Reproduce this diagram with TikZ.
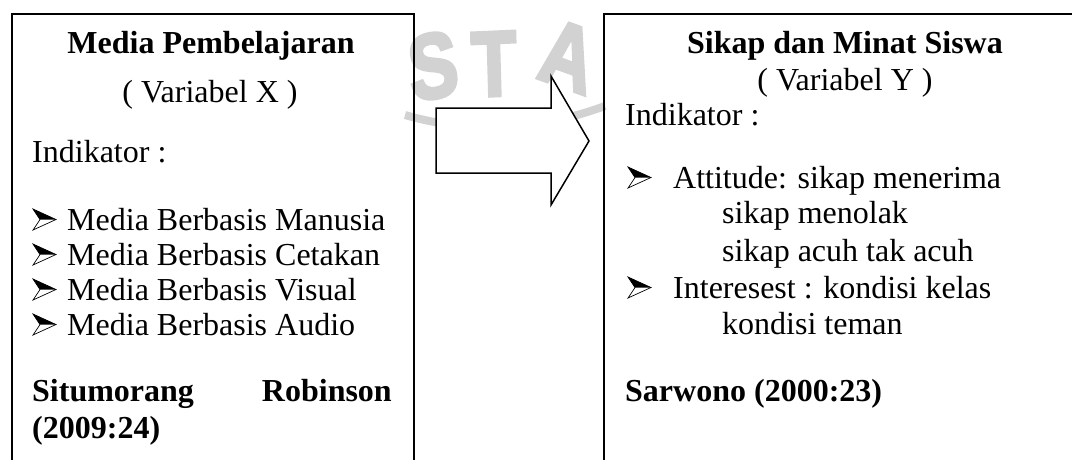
\documentclass[tikz,border=0pt]{standalone}
\usepackage{fontspec}
\setmainfont{Liberation Serif}
\newfontfamily\capfont[BoldFeatures={FakeBold=4}]{Liberation Sans}
\usetikzlibrary{positioning}
\definecolor{samar}{HTML}{D2D2D2}

\begin{document}
\begin{tikzpicture}[x=1pt,y=-1pt,
  kotak/.style={draw,line width=1.5pt,rectangle,inner sep=0pt,anchor=north west},
  teks/.style={anchor=base west,inner sep=0pt,font=\fontsize{32}{36}\selectfont},
  judul/.style={anchor=base,inner sep=0pt,font=\fontsize{32}{36}\selectfont\bfseries},
  tebal/.style={teks,font=\fontsize{32}{36}\selectfont\bfseries},
  huruf/.style={samar,inner sep=0pt,xscale=0.8,font=\capfont\bfseries\fontsize{92}{92}\selectfont},
  butir/.pic={\filldraw[line width=0.7pt,fill=white] (0,-21)--(23,-10.5)--(0,0)--(7,-10.5)--cycle;
              \fill (0,-21)--(23,-10.5)--(7,-10.5)--cycle;}]
\clip (0,0) rectangle (1072,459);
\node[huruf,rotate=8] (wmS) at (433,66) {S};
\node[huruf,rotate=2] (wmT) at (494,64) {T};
\node[huruf,rotate=-16] (wmA) at (568,56) {A};
\draw[samar,line width=8pt] (405,115) .. controls (470,134) and (540,130) .. (605,106);

\node[kotak,minimum width=402,minimum height=520] (kotakX) at (11,13) {};
\node[kotak,minimum width=520,minimum height=520] (kotakY) at (603,13) {};
\draw[line width=1.5pt,line join=miter,fill=white] (436,108) -- (551,108) -- (551,76) -- (589,141)
  -- (551,205) -- (551,173) -- (436,173) -- cycle;

\node[judul] (judulX) at (211,53) {Media Pembelajaran};
\node[teks,anchor=base] (varX) at (210,102) {( Variabel X )};
\node[teks] (indX) at (32,162) {Indikator :};
\foreach \y/\t [count=\i] in {230/Manusia,265/Cetakan,300/Visual,335/Audio}{
  \pic at (33,\y) {butir};
  \node[teks] (mediaX\i) at (67,\y) {Media Berbasis \t};}
\node[tebal] (sumberX1) at (32,401) {Situmorang};
\node[tebal,anchor=base east] (sumberX2) at (392,401) {Robinson};
\node[tebal] (sumberX3) at (32,438) {(2009:24)};

\node[judul] (judulY) at (845,53) {Sikap dan Minat Siswa};
\node[teks,anchor=base] (varY) at (845,90) {( Variabel Y )};
\node[teks] (indY) at (625,125) {Indikator :};
\pic at (628,188) {butir};
\node[teks] (sikap1) at (673,188) {Attitude: sikap menerima};
\node[teks] (sikap2) at (722,223) {sikap menolak};
\node[teks] (sikap3) at (722,261) {sikap acuh tak acuh};
\pic at (628,298) {butir};
\node[teks] (minat1) at (673,298) {Interesest : kondisi kelas};
\node[teks] (minat2) at (722,334) {kondisi teman};
\node[tebal] (sumberY) at (625,401) {Sarwono (2000:23)};
\end{tikzpicture}
\end{document}
